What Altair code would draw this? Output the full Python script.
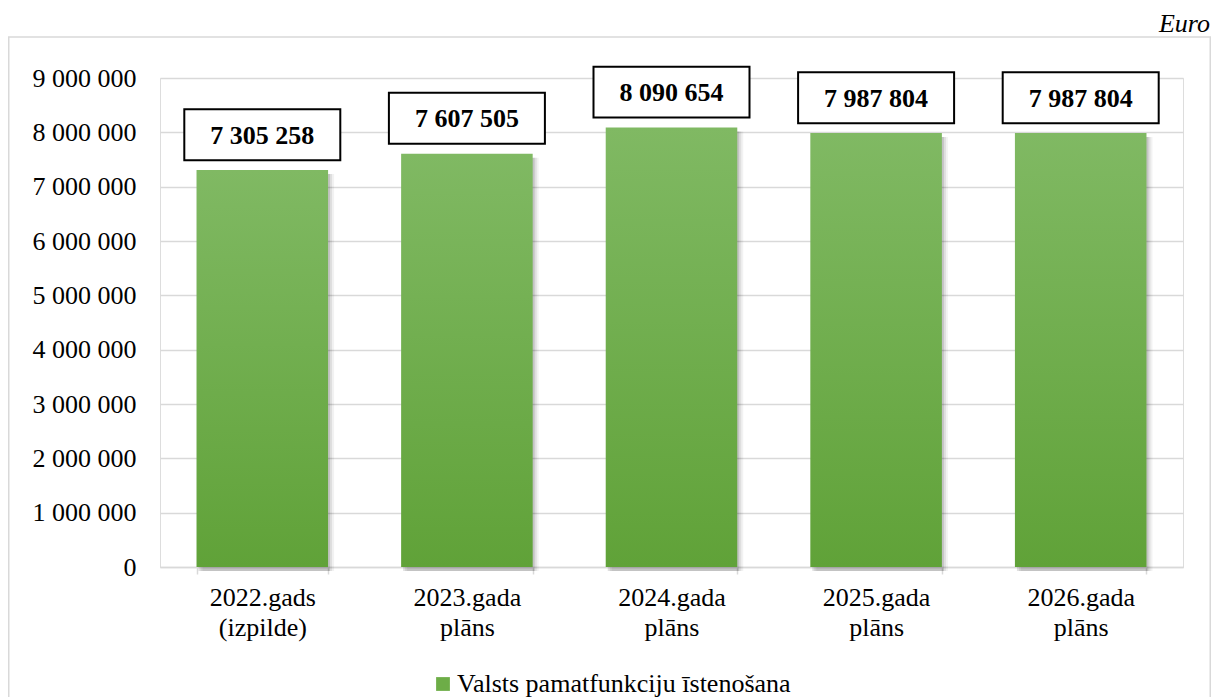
import altair as alt
import pandas as pd

categories = ["2022.gads (izpilde)", "2023.gada plāns", "2024.gada plāns",
              "2025.gada plāns", "2026.gada plāns"]
values = [7305258, 7607505, 8090654, 7987804, 7987804]
series_name = "Valsts pamatfunkciju īstenošana"
y_ticks = [0, 1000000, 2000000, 3000000, 4000000, 5000000, 6000000, 7000000, 8000000, 9000000]
unit_label = "Euro"

FONT = "Liberation Serif"
W, H = 1023, 489
PAD = {"left": 152, "top": 70, "right": 28, "bottom": 130}

df = pd.DataFrame({"cat": categories, "value": values, "series": series_name})

xenc = alt.X("cat:N", sort=categories, title=None,
             scale=alt.Scale(paddingInner=0.357, paddingOuter=0.1785),
             axis=alt.Axis(labelExpr="split(datum.label, ' ')", labelFont=FONT,
                           labelFontSize=26, labelLineHeight=30, labelColor="#000",
                           labelAngle=0, labelPadding=10, tickBand="extent",
                           tickColor="#d9d9d9", tickSize=7, tickWidth=1.5,
                           domainColor="#d9d9d9", domainWidth=1.5, grid=False))
yenc = alt.Y("value:Q", title=None,
             scale=alt.Scale(domain=[0, 9000000], nice=False),
             axis=alt.Axis(values=y_ticks, format=",d", labelFont=FONT, labelFontSize=26,
                           labelColor="#000", labelPadding=24, ticks=False, domain=False,
                           gridColor="#d9d9d9", gridWidth=1.5))

base = alt.Chart(df)

border = alt.Chart(pd.DataFrame({"d": [0]})).mark_rect(
    fill=None, stroke="#d9d9d9", strokeWidth=1.5
).encode(x=alt.value(-PAD["left"] + 0.75), x2=alt.value(W + PAD["right"] - 0.75),
         y=alt.value(-41), y2=alt.value(H + PAD["bottom"] + 20))

unit = alt.Chart(pd.DataFrame({"t": [unit_label]})).mark_text(
    font=FONT, fontSize=26, fontStyle="italic", align="right", baseline="alphabetic", color="#000"
).encode(x=alt.value(W + PAD["right"] - 1), y=alt.value(-46), text="t:N")

shadows = [
    base.mark_bar(color="#000", opacity=op, xOffset=off, yOffset=4, y2Offset=0).encode(x=xenc, y=yenc)
    for off, op in [(6, 0.05), (4, 0.08), (2, 0.12)]
]

grad = alt.LinearGradient(gradient="linear",
                          stops=[alt.GradientStop(color="#80b963", offset=0),
                                 alt.GradientStop(color="#60a238", offset=1)],
                          x1=0, x2=0, y1=0, y2=1)
bars = base.mark_bar(fill=grad).encode(x=xenc, y=yenc)

lab = base.transform_calculate(
    ly="min(datum.value + 650000, 8740000)"
).transform_calculate(
    lo="datum.ly - 469000", hi="datum.ly + 469000"
)
boxes = lab.mark_bar(width=156, fill="white", stroke="#000", strokeWidth=2).encode(
    x=xenc, y=alt.Y("lo:Q"), y2="hi:Q")
texts = lab.mark_text(font=FONT, fontSize=26, fontWeight="bold", color="#000",
                      baseline="middle", dy=1).encode(
    x=xenc, y=alt.Y("ly:Q"), text=alt.Text("value:Q", format=",d"))

legend_layer = base.mark_square(opacity=0).encode(
    x=xenc, y=yenc,
    color=alt.Color("series:N", scale=alt.Scale(range=["#6dad47"]),
                    legend=alt.Legend(orient="none", legendX=270, legendY=593, title=None,
                                      symbolType="square", symbolSize=190, symbolOpacity=1,
                                      symbolStrokeWidth=0, labelFont=FONT, labelFontSize=26,
                                      labelColor="#000", labelOffset=1, labelLimit=600)))

chart = alt.layer(border, unit, *shadows, bars, boxes, texts, legend_layer).properties(
    width=W, height=H, padding=PAD, autosize=alt.AutoSizeParams(type="none")
).configure_view(stroke=None).configure(
    locale={"number": {"decimal": ",", "thousands": " ", "grouping": [3], "currency": ["", ""]}}
)

chart.save("out.html", embed_options={"renderer": "svg", "actions": False})
